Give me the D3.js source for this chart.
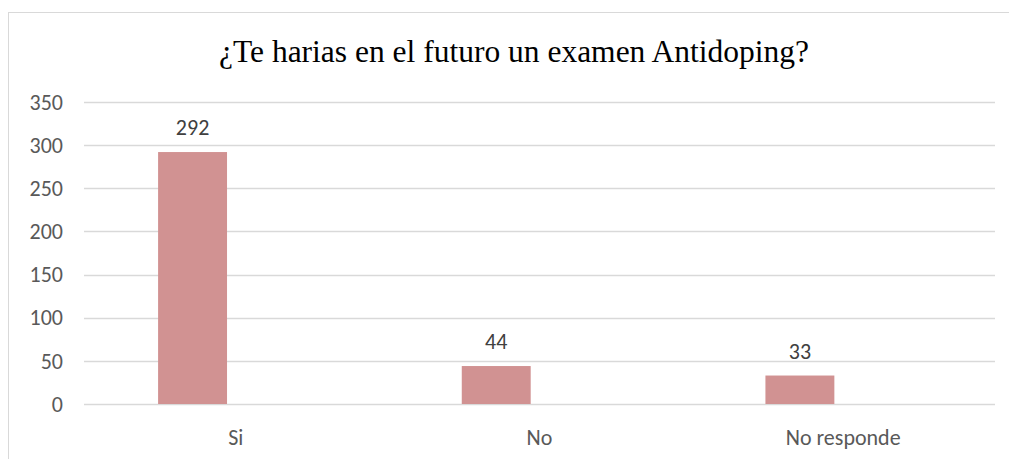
<!DOCTYPE html>
<html>
<head>
<meta charset="utf-8">
<script src="https://cdn.jsdelivr.net/npm/d3@7"></script>
<style>
  body { margin: 0; background: #fff; }
  svg { display: block; }
</style>
</head>
<body>
<div id="chart"></div>
<script>
// data
var categories = ["Si", "No", "No responde"];
var values = [292, 44, 33];
var yTicks = [0, 50, 100, 150, 200, 250, 300, 350];
var title = "¿Te harias en el futuro un examen Antidoping?";

var width = 1009, height = 459;
var margin = { top: 102, right: 14, bottom: 55, left: 84 };

var svg = d3.select("#chart").append("svg")
  .attr("width", width)
  .attr("height", height);

// outer frame (right and bottom run off the picture)
svg.append("rect")
  .attr("x", 8.5).attr("y", 12.5)
  .attr("width", 1010).attr("height", 460)
  .attr("fill", "none")
  .attr("stroke", "#d9d9d9");

var x = d3.scaleBand()
  .domain(categories)
  .range([margin.left, width - margin.right]);

var y = d3.scaleLinear()
  .domain([0, 350])
  .range([height - margin.bottom, margin.top]);

// gridlines
svg.append("g")
  .selectAll("line")
  .data(yTicks)
  .enter().append("line")
  .attr("x1", margin.left)
  .attr("x2", width - margin.right)
  .attr("y1", function (d) { return Math.round(y(d)) + 0.5; })
  .attr("y2", function (d) { return Math.round(y(d)) + 0.5; })
  .attr("stroke", "#d9d9d9")
  .attr("stroke-width", 1.5);

// y labels
var labelFont = "Carlito, Calibri, Lato, sans-serif";
svg.append("g")
  .selectAll("text")
  .data(yTicks)
  .enter().append("text")
  .attr("x", 63)
  .attr("y", function (d) { return y(d); })
  .attr("dy", "0.35em")
  .attr("text-anchor", "end")
  .attr("font-family", labelFont)
  .attr("font-size", 22)
  .attr("fill", "#595959")
  .text(function (d) { return d; });

// bars sit left of band centre (second series slot is empty)
var barW = x.bandwidth() * 0.227;
var barOffset = -x.bandwidth() * 0.256;
svg.append("g")
  .selectAll("rect")
  .data(values)
  .enter().append("rect")
  .attr("x", function (d, i) { return x(categories[i]) + x.bandwidth() / 2 + barOffset; })
  .attr("y", function (d) { return y(d); })
  .attr("width", barW)
  .attr("height", function (d) { return y(0) - y(d); })
  .attr("fill", "#d19292");

// value labels
svg.append("g")
  .selectAll("text")
  .data(values)
  .enter().append("text")
  .attr("x", function (d, i) { return x(categories[i]) + x.bandwidth() / 2 + barOffset + barW / 2; })
  .attr("y", function (d) { return y(d) - 17; })
  .attr("text-anchor", "middle")
  .attr("font-family", labelFont)
  .attr("font-size", 22)
  .attr("fill", "#404040")
  .text(function (d) { return d; });

// category labels
svg.append("g")
  .selectAll("text")
  .data(categories)
  .enter().append("text")
  .attr("x", function (d) { return x(d) + x.bandwidth() / 2; })
  .attr("y", 445)
  .attr("text-anchor", "middle")
  .attr("font-family", labelFont)
  .attr("font-size", 22)
  .attr("fill", "#595959")
  .text(function (d) { return d; });

// title
svg.append("text")
  .attr("x", 514)
  .attr("y", 62)
  .attr("text-anchor", "middle")
  .attr("font-family", "'Liberation Serif', 'Times New Roman', serif")
  .attr("font-size", 31.5)
  .attr("fill", "#000")
  .text(title);
</script>
</body>
</html>
